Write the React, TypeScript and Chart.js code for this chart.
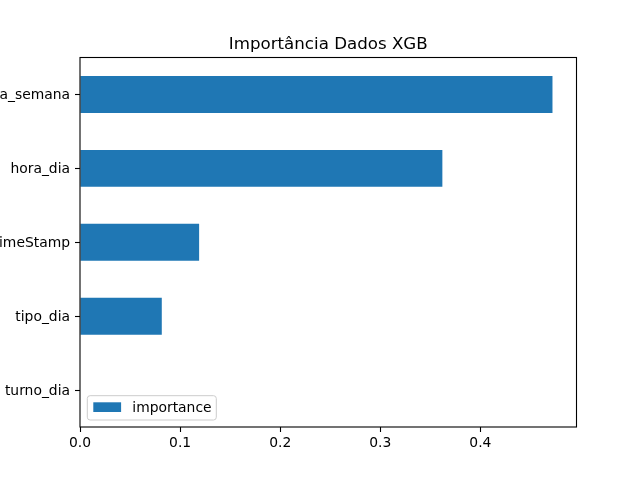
import React, { useEffect, useRef } from "react";
import { Chart, registerables } from "chart.js";

Chart.register(...registerables);

const titleText = "Importância Dados XGB";
const categories = ["dia_semana", "hora_dia", "timeStamp", "tipo_dia", "turno_dia"];
const importance = [0.472, 0.362, 0.119, 0.0817, 0];
const xTicks = [0, 0.1, 0.2, 0.3, 0.4];
const seriesName = "importance";
const barColor = "#1f77b4";
const FONT = "'DejaVu Sans', sans-serif";

const decorPlugin = {
  id: "decor",
  afterDatasetsDraw(chart: any) {
    const { ctx, chartArea } = chart;
    const { left, right, top, bottom } = chartArea;
    ctx.save();
    // spines
    ctx.strokeStyle = "#000";
    ctx.lineWidth = 1.1;
    ctx.strokeRect(left, top, right - left, bottom - top);
    // title
    ctx.fillStyle = "#000";
    ctx.font = `16.67px ${FONT}`;
    ctx.textAlign = "center";
    ctx.textBaseline = "alphabetic";
    ctx.fillText(titleText, (left + right) / 2, top - 8.5);
    // legend
    const bx = left + 7.3, by = bottom - 31.3, bw = 129, bh = 24.3, r = 2.8;
    ctx.beginPath();
    ctx.moveTo(bx + r, by);
    ctx.lineTo(bx + bw - r, by);
    ctx.quadraticCurveTo(bx + bw, by, bx + bw, by + r);
    ctx.lineTo(bx + bw, by + bh - r);
    ctx.quadraticCurveTo(bx + bw, by + bh, bx + bw - r, by + bh);
    ctx.lineTo(bx + r, by + bh);
    ctx.quadraticCurveTo(bx, by + bh, bx, by + bh - r);
    ctx.lineTo(bx, by + r);
    ctx.quadraticCurveTo(bx, by, bx + r, by);
    ctx.closePath();
    ctx.fillStyle = "rgba(255,255,255,0.8)";
    ctx.fill();
    ctx.strokeStyle = "#cccccc";
    ctx.lineWidth = 1;
    ctx.stroke();
    ctx.fillStyle = barColor;
    ctx.fillRect(bx + 6, by + 6.6, 27.8, 9.7);
    ctx.fillStyle = "#000";
    ctx.font = `13.89px ${FONT}`;
    ctx.textAlign = "left";
    ctx.textBaseline = "middle";
    ctx.fillText(seriesName, bx + 45, by + 12.8);
    ctx.restore();
  },
};

export default function App() {
  const ref = useRef<HTMLCanvasElement>(null);
  useEffect(() => {
    if (!ref.current) return;
    const chart = new Chart(ref.current, {
      type: "bar",
      data: {
        labels: categories,
        datasets: [
          {
            label: seriesName,
            data: importance,
            backgroundColor: barColor,
            borderWidth: 0,
            barPercentage: 0.5,
            categoryPercentage: 1.0,
          },
        ],
      },
      options: {
        indexAxis: "y",
        responsive: false,
        animation: false,
        layout: { padding: { left: 0, right: 63.5, top: 57.5, bottom: 0 } },
        plugins: {
          legend: { display: false },
          title: { display: false },
          tooltip: { enabled: false },
        },
        scales: {
          x: {
            type: "linear",
            min: 0,
            max: 0.496,
            afterBuildTicks: (scale: any) => {
              scale.ticks = xTicks.map((v) => ({ value: v }));
            },
            afterFit: (scale: any) => {
              scale.height = 53;
            },
            ticks: {
              color: "#000",
              font: { family: FONT, size: 13.89 },
              padding: 3,
              maxRotation: 0,
              callback: (v: any) => Number(v).toFixed(1),
            },
            grid: {
              drawOnChartArea: false,
              drawTicks: true,
              tickLength: 5,
              color: "#000",
              tickWidth: 1.1,
            },
            border: { display: false },
          },
          y: {
            type: "category",
            offset: true,
            afterFit: (scale: any) => {
              scale.width = 80;
            },
            ticks: {
              color: "#000",
              font: { family: FONT, size: 13.89 },
              padding: 5,
              labelOffset: 1,
            },
            grid: {
              drawOnChartArea: false,
              drawTicks: true,
              tickLength: 5,
              color: "#000",
              tickWidth: 1.1,
              offset: false,
            },
            border: { display: false },
          },
        },
      },
      plugins: [decorPlugin],
    });
    return () => chart.destroy();
  }, []);
  return (
    <div style={{ position: "fixed", left: 0, top: 0, width: 640, height: 480, background: "#fff" }}>
      <canvas ref={ref} width={640} height={480} />
    </div>
  );
}
